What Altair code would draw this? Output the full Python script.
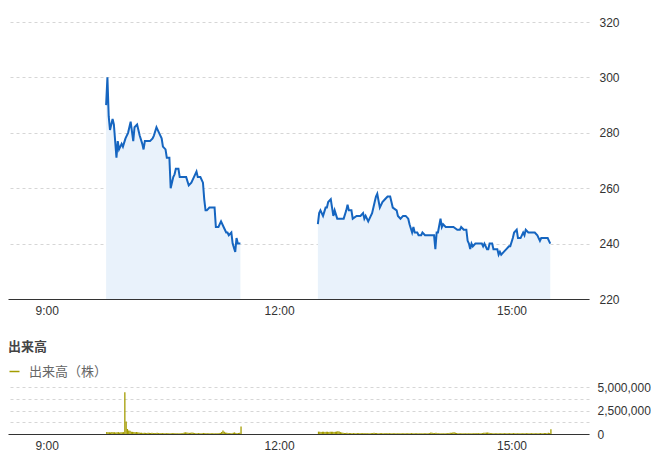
import pandas as pd
import altair as alt

DAY = "2024-01-01"

# 株価: 前場
morning_times = ["9:46", "9:47", "9:48", "9:49", "9:51", "9:52", "9:54", "9:55", "9:56", "9:58",
                 "9:59", "10:01", "10:03", "10:05", "10:07", "10:08", "10:10", "10:12", "10:14", "10:15",
                 "10:16", "10:19", "10:20", "10:22", "10:23", "10:25", "10:27", "10:29", "10:30", "10:32",
                 "10:33", "10:35", "10:36", "10:38", "10:39", "10:40", "10:42", "10:43", "10:46", "10:48",
                 "10:50", "10:52", "10:54", "10:56", "10:57", "10:59", "11:01", "11:02", "11:03", "11:04",
                 "11:06", "11:09", "11:10", "11:11", "11:13", "11:15", "11:17", "11:19", "11:20", "11:21",
                 "11:23", "11:24", "11:26", "11:27", "11:28", "11:30"]
morning_prices = [290, 300, 286, 281, 285, 283, 271, 277, 274, 276,
                  275, 278, 280, 284, 277, 282, 283, 279, 276, 274,
                  277, 277, 277, 278, 279, 282, 280, 278, 275, 274,
                  271, 271, 260, 264, 265, 267, 267, 264, 264, 264,
                  261, 262, 264, 266, 264, 264, 262, 256, 252, 252,
                  253, 253, 253, 246, 246, 248, 246, 244, 244, 243,
                  244, 240, 237, 242, 240, 240]

# 株価: 後場
afternoon_times = ["12:30", "12:31", "12:32", "12:34", "12:36", "12:37", "12:38", "12:40", "12:41", "12:42",
                   "12:43", "12:45", "12:47", "12:49", "12:50", "12:52", "12:53", "12:54", "12:56", "12:57",
                   "13:00", "13:03", "13:05", "13:06", "13:07", "13:09", "13:11", "13:12", "13:14", "13:15",
                   "13:16", "13:18", "13:20", "13:22", "13:24", "13:26", "13:27", "13:28", "13:31", "13:32",
                   "13:34", "13:36", "13:38", "13:40", "13:41", "13:43", "13:44", "13:45", "13:47", "13:48",
                   "13:50", "13:51", "13:53", "13:54", "13:56", "13:58", "14:00", "14:01", "14:02", "14:03",
                   "14:05", "14:06", "14:07", "14:09", "14:11", "14:15", "14:18", "14:20", "14:21", "14:23",
                   "14:25", "14:26", "14:27", "14:28", "14:29", "14:30", "14:32", "14:34", "14:37", "14:38",
                   "14:39", "14:41", "14:42", "14:43", "14:45", "14:46", "14:47", "14:49", "14:50", "14:51",
                   "14:52", "14:54", "14:56", "14:58", "14:59", "15:01", "15:02", "15:04", "15:05", "15:07",
                   "15:09", "15:10", "15:11", "15:13", "15:16", "15:18", "15:20", "15:22", "15:23", "15:26",
                   "15:28", "15:29", "15:30"]
afternoon_prices = [247, 251, 252, 250, 253, 253, 255, 256, 253, 250,
                    252, 249, 249, 249, 249, 252, 254, 252, 252, 249,
                    250, 250, 251, 249, 250, 248, 250, 251, 255, 257,
                    258, 253, 255, 256, 257, 257, 255, 253, 252, 250,
                    249, 250, 250, 249, 247, 244, 246, 244, 244, 243,
                    243, 244, 243, 243, 243, 243, 243, 238, 244, 244,
                    249, 246, 247, 246, 246, 246, 245, 245, 246, 245,
                    245, 241, 240, 238, 240, 239, 240, 240, 240, 239,
                    240, 238, 238, 240, 240, 238, 238, 238, 236, 237,
                    236, 237, 238, 239, 239, 242, 244, 245, 242, 242,
                    244, 243, 245, 244, 244, 244, 243, 241, 242, 242,
                    242, 241, 240]

# 出来高 (千株, 1分ごと)
morning_volume_start = "9:46"
morning_volume = [200, 180, 190, 170, 200, 180, 190, 170, 180, 200,
                  170, 190, 180, 200, 4450, 1340, 530, 380, 350, 250,
                  230, 200, 180, 210, 190, 150, 120, 140, 110, 130,
                  120, 100, 140, 120, 110, 130, 110, 90, 100, 120,
                  100, 90, 110, 100, 80, 90, 100, 80, 90, 70,
                  80, 90, 100, 80, 70, 80, 90, 70, 80, 100,
                  150, 180, 160, 130, 120, 120, 150, 130, 100, 90,
                  80, 100, 90, 80, 90, 110, 100, 90, 80, 90,
                  80, 70, 80, 90, 80, 70, 90, 100, 120, 200,
                  380, 250, 150, 120, 100, 90, 80, 90, 120, 170,
                  100, 90, 110, 120, 800]
afternoon_volume_start = "12:30"
afternoon_volume = [250, 230, 220, 240, 230, 220, 230, 240, 220, 230,
                    240, 230, 220, 240, 260, 280, 270, 200, 150, 120,
                    110, 100, 120, 90, 100, 110, 90, 100, 80, 90,
                    100, 90, 80, 110, 90, 80, 100, 90, 80, 90,
                    80, 90, 100, 120, 110, 100, 90, 80, 90, 100,
                    90, 80, 90, 100, 80, 90, 80, 70, 80, 90,
                    80, 90, 70, 80, 90, 80, 70, 80, 90, 80,
                    90, 80, 100, 90, 80, 70, 80, 90, 80, 70,
                    80, 90, 80, 70, 80, 90, 100, 170, 120, 90,
                    100, 120, 90, 80, 90, 80, 70, 80, 90, 80,
                    90, 100, 120, 130, 150, 180, 140, 110, 90, 80,
                    80, 90, 80, 70, 80, 90, 80, 70, 80, 90,
                    80, 90, 100, 80, 90, 80, 90, 100, 120, 130,
                    150, 170, 130, 100, 90, 80, 90, 80, 70, 80,
                    90, 80, 70, 80, 90, 80, 70, 80, 90, 80,
                    90, 100, 80, 90, 80, 70, 80, 90, 80, 70,
                    80, 90, 80, 70, 80, 90, 80, 70, 80, 90,
                    80, 90, 100, 80, 90, 100, 110, 90, 120, 100,
                    500]

PRICE_TICKS = [220, 240, 260, 280, 300, 320]
VOLUME_TICKS = [0, 1250000, 2500000, 3750000, 5000000]
TIME_TICKS = [(9, 0), (12, 0), (15, 0)]
TIME_DOMAIN = [(8, 30), (16, 0)]

LINE_BLUE = "#1565c0"
FILL_BLUE = "#e9f2fb"
OLIVE = "#a39c00"
JP_FONT = "Noto Sans CJK JP"


def ts(hm):
    return pd.Timestamp(f"{DAY} {hm}")


def dt(h, m):
    return alt.DateTime(year=2024, month=1, date=1, hours=h, minutes=m)


def minute_range(start, n):
    t0 = ts(start)
    return [t0 + pd.Timedelta(minutes=i) for i in range(n)]


price_df = pd.concat([
    pd.DataFrame({'time': [ts(t) for t in morning_times], 'price': morning_prices, 'session': '前場'}),
    pd.DataFrame({'time': [ts(t) for t in afternoon_times], 'price': afternoon_prices, 'session': '後場'}),
], ignore_index=True)

vol_df = pd.DataFrame({
    'time': minute_range(morning_volume_start, len(morning_volume))
    + minute_range(afternoon_volume_start, len(afternoon_volume)),
    'volume': [v * 1000 for v in morning_volume + afternoon_volume],
})
vol_df['time_end'] = vol_df['time'] + pd.Timedelta(minutes=1)
vol_df['series'] = '出来高（株）'

time_scale = alt.Scale(domain=[dt(*t) for t in TIME_DOMAIN])
time_axis = alt.Axis(values=[dt(*t) for t in TIME_TICKS], format='%-H:%M', title=None,
                     grid=False, labelPadding=6)

# 株価チャート
base = alt.Chart(price_df).encode(
    x=alt.X('time:T', scale=time_scale, axis=time_axis),
    y=alt.Y('price:Q', scale=alt.Scale(domain=[220, 320], nice=False, zero=False),
            axis=alt.Axis(orient='right', values=PRICE_TICKS, title=None, domain=False,
                          labelPadding=10)),
    detail='session:N',
)
area = base.mark_area(color=FILL_BLUE).encode(y2=alt.datum(220))
line = base.mark_line(color=LINE_BLUE, strokeWidth=2)
price_chart = (area + line).properties(width=581, height=277)

# 出来高チャート
vol_chart = alt.Chart(vol_df).mark_rect().encode(
    x=alt.X('time:T', scale=time_scale, axis=time_axis),
    x2='time_end:T',
    y=alt.Y('volume:Q', scale=alt.Scale(domain=[0, 5000000], nice=False),
            axis=alt.Axis(orient='right', values=VOLUME_TICKS, title=None, domain=False,
                          labelPadding=8,
                          labelExpr="datum.value % 2500000 === 0 ? format(datum.value, ',') : ''")),
    y2=alt.datum(0),
    color=alt.Color('series:N', scale=alt.Scale(range=[OLIVE]),
                    legend=alt.Legend(orient='none', legendX=0, legendY=-22, title=None,
                                      symbolType='M-1,-0.15H1V0.15H-1Z', symbolSize=100,
                                      symbolStrokeWidth=0, labelFont=JP_FONT, labelFontSize=13,
                                      labelColor='#666', labelOffset=8)),
).properties(
    width=581,
    height=47,
    title=alt.TitleParams('出来高', anchor='start', frame='group', offset=11, fontSize=13,
                          font=JP_FONT, fontWeight='bold', color='#444'),
)

chart = alt.vconcat(price_chart, vol_chart, spacing=25).resolve_legend(
    color='independent'
).properties(
    padding={'left': 0, 'top': 8, 'right': 0, 'bottom': 0}
).configure_view(
    stroke=None
).configure_axis(
    labelFont='Liberation Sans',
    labelFontSize=12,
    labelColor='#333',
    domainColor='#333',
    ticks=False,
    tickSize=0,
    gridColor='#d6d6d6',
    gridDash=[3, 3],
)

chart.save("out.html", embed_options={"renderer": "svg", "actions": False})
